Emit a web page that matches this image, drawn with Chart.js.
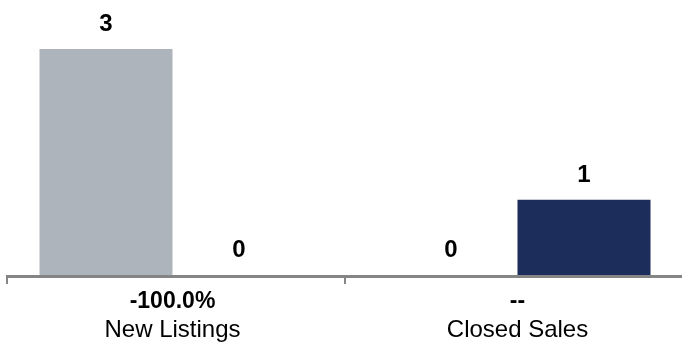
<!DOCTYPE html>
<html>
<head>
<meta charset="utf-8">
<script src="https://cdn.jsdelivr.net/npm/chart.js@4"></script>
<style>
  html, body { margin: 0; padding: 0; background: #fff; overflow: hidden; }
  #wrap { width: 690px; height: 343px; position: relative; }
</style>
</head>
<body>
<div id="wrap"><canvas id="grafico"></canvas></div>
<script>
const categorias = ['New Listings', 'Closed Sales'];
const cambios = ['-100.0%', '--'];
const anioAnterior = [3, 0];
const anioActual = [0, 1];

const fuente = '"Liberation Sans", Arial, Helvetica, sans-serif';

// etiquetas de valor encima de cada barra
const etiquetasValor = {
    id: 'etiquetasValor',
    afterDatasetsDraw(chart) {
        const ctx = chart.ctx;
        ctx.save();
        ctx.font = 'bold 24px ' + fuente;
        ctx.fillStyle = '#000';
        ctx.textAlign = 'center';
        ctx.textBaseline = 'alphabetic';
        chart.data.datasets.forEach((ds, i) => {
            chart.getDatasetMeta(i).data.forEach((bar, j) => {
                ctx.fillText(String(ds.data[j]), bar.x, bar.y - 18);
            });
        });
        ctx.restore();
    }
};

// eje x con marcas y etiquetas de dos lineas
const ejeX = {
    id: 'ejeX',
    afterDraw(chart) {
        const ctx = chart.ctx;
        const area = chart.chartArea;
        const x = chart.scales.x;
        ctx.save();
        ctx.fillStyle = '#858585';
        ctx.fillRect(6, area.bottom, chart.width - 6, 3);
        ctx.fillRect(6, area.bottom, 2, 9);
        const medio = (x.getPixelForValue(0) + x.getPixelForValue(1)) / 2;
        ctx.fillRect(medio - 1, area.bottom, 2, 9);

        ctx.fillStyle = '#000';
        ctx.textAlign = 'center';
        ctx.textBaseline = 'middle';
        categorias.forEach((cat, i) => {
            const px = x.getPixelForValue(i);
            ctx.font = 'bold 23px ' + fuente;
            ctx.fillText(cambios[i], px, 302);
            ctx.font = '24px ' + fuente;
            ctx.fillText(cat, px, 330);
        });
        ctx.restore();
    }
};

new Chart(document.getElementById('grafico').getContext('2d'), {
    type: 'bar',
    data: {
        labels: categorias,
        datasets: [{
            label: 'Anterior',
            data: anioAnterior,
            backgroundColor: '#adb4bb',
            categoryPercentage: 0.771,
            barPercentage: 1
        }, {
            label: 'Actual',
            data: anioActual,
            backgroundColor: '#1d2d5b',
            categoryPercentage: 0.771,
            barPercentage: 1
        }]
    },
    options: {
        responsive: true,
        maintainAspectRatio: false,
        animation: false,
        layout: { padding: { top: 0, bottom: 68, left: 0, right: 0 } },
        plugins: {
            legend: { display: false },
            tooltip: { enabled: false }
        },
        scales: {
            x: { display: false },
            y: { display: false, min: 0, max: 3.65 }
        }
    },
    plugins: [etiquetasValor, ejeX]
});
</script>
</body>
</html>
